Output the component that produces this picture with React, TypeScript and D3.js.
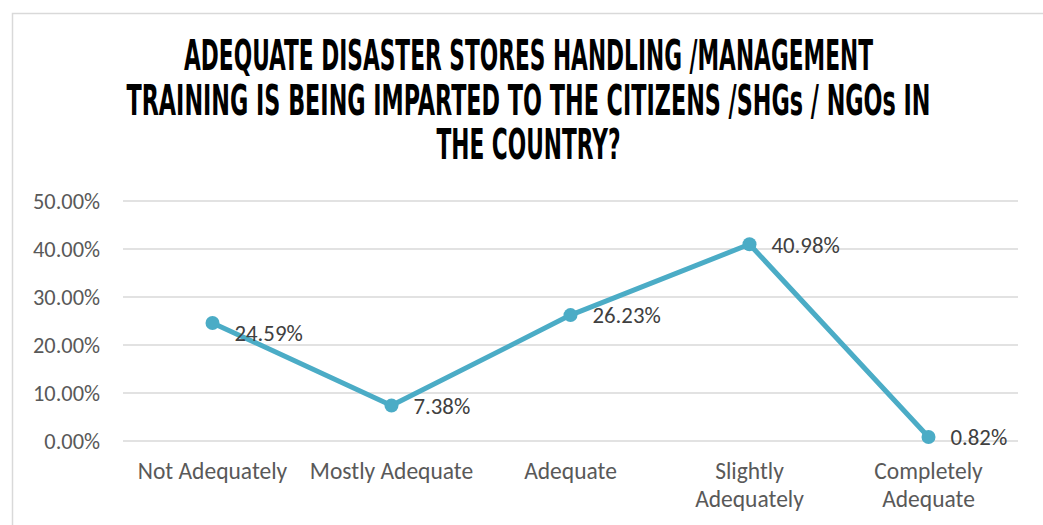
import React from "react";
import * as d3 from "d3";

const titleLines = [
  "ADEQUATE DISASTER STORES HANDLING /MANAGEMENT",
  "TRAINING IS BEING IMPARTED TO THE CITIZENS /SHGs / NGOs IN",
  "THE COUNTRY?",
];
const categories = [
  "Not Adequately",
  "Mostly Adequate",
  "Adequate",
  "Slightly Adequately",
  "Completely Adequate",
];
const values = [24.59, 7.38, 26.23, 40.98, 0.82];
const yTicks = [0, 10, 20, 30, 40, 50];

const W = 1043;
const H = 525;
const M = { left: 123, right: 1018, top: 201, bottom: 441 };
const LINE = "#4BACC6";
const AXIS_FONT = "Carlito, Lato, sans-serif";

function wrap(label: string): string[] {
  if (label.length <= 15) return [label];
  const i = label.indexOf(" ");
  return [label.slice(0, i), label.slice(i + 1)];
}

export default function App() {
  const x = d3.scaleBand<string>().domain(categories).range([M.left, M.right]);
  const y = d3.scaleLinear().domain([0, 50]).range([M.bottom, M.top]);
  const cx = (c: string) => (x(c) ?? 0) + x.bandwidth() / 2;
  const line = d3
    .line<number>()
    .x((_, i) => cx(categories[i]))
    .y((v) => y(v));

  const titleWidths = [689, 804, 184];
  const titleBase = [70, 115, 159];

  return (
    <svg
      width={W}
      height={H}
      style={{ position: "absolute", left: 0, top: 0, background: "#fff" }}
    >
      <rect x={0} y={0} width={W} height={H} fill="#fff" />
      <path
        d={`M12.5,${H} L12.5,13.5 L${W},13.5`}
        fill="none"
        stroke="#d9d9d9"
        strokeWidth={1.5}
      />
      {titleLines.map((t, i) => (
        <text
          key={i}
          x={W / 2 + 7}
          y={titleBase[i]}
          textAnchor="middle"
          fontFamily="'Liberation Sans Narrow', 'DejaVu Sans Condensed', sans-serif"
          fontWeight="bold"
          fontSize={42}
          fill="#000"
          textLength={titleWidths[i]}
          lengthAdjust="spacingAndGlyphs"
        >
          {t}
        </text>
      ))}
      {yTicks.map((t) => (
        <g key={t}>
          <line
            x1={M.left}
            x2={M.right}
            y1={y(t)}
            y2={y(t)}
            stroke="#d9d9d9"
            strokeWidth={1.3}
          />
          <text
            x={100}
            y={y(t)}
            dy="0.36em"
            textAnchor="end"
            fontFamily={AXIS_FONT}
            fontSize={22.4}
            fill="#595959"
          >
            {t.toFixed(2) + "%"}
          </text>
        </g>
      ))}
      {categories.map((c) => (
        <text
          key={c}
          x={cx(c)}
          y={479}
          textAnchor="middle"
          fontFamily={AXIS_FONT}
          fontSize={23.5}
          fill="#595959"
        >
          {wrap(c).map((l, j) => (
            <tspan key={j} x={cx(c)} dy={j === 0 ? 0 : 28}>
              {l}
            </tspan>
          ))}
        </text>
      ))}
      <path
        d={line(values) ?? ""}
        fill="none"
        stroke={LINE}
        strokeWidth={5}
        strokeLinejoin="round"
      />
      {values.map((v, i) => (
        <g key={i}>
          <circle cx={cx(categories[i])} cy={y(v)} r={7} fill={LINE} />
          <text
            x={cx(categories[i]) + 22}
            y={y(v) + (i === 0 ? 10 : 0)}
            dy="0.36em"
            fontFamily={AXIS_FONT}
            fontSize={22.8}
            fill="#404040"
          >
            {v.toFixed(2) + "%"}
          </text>
        </g>
      ))}
    </svg>
  );
}
